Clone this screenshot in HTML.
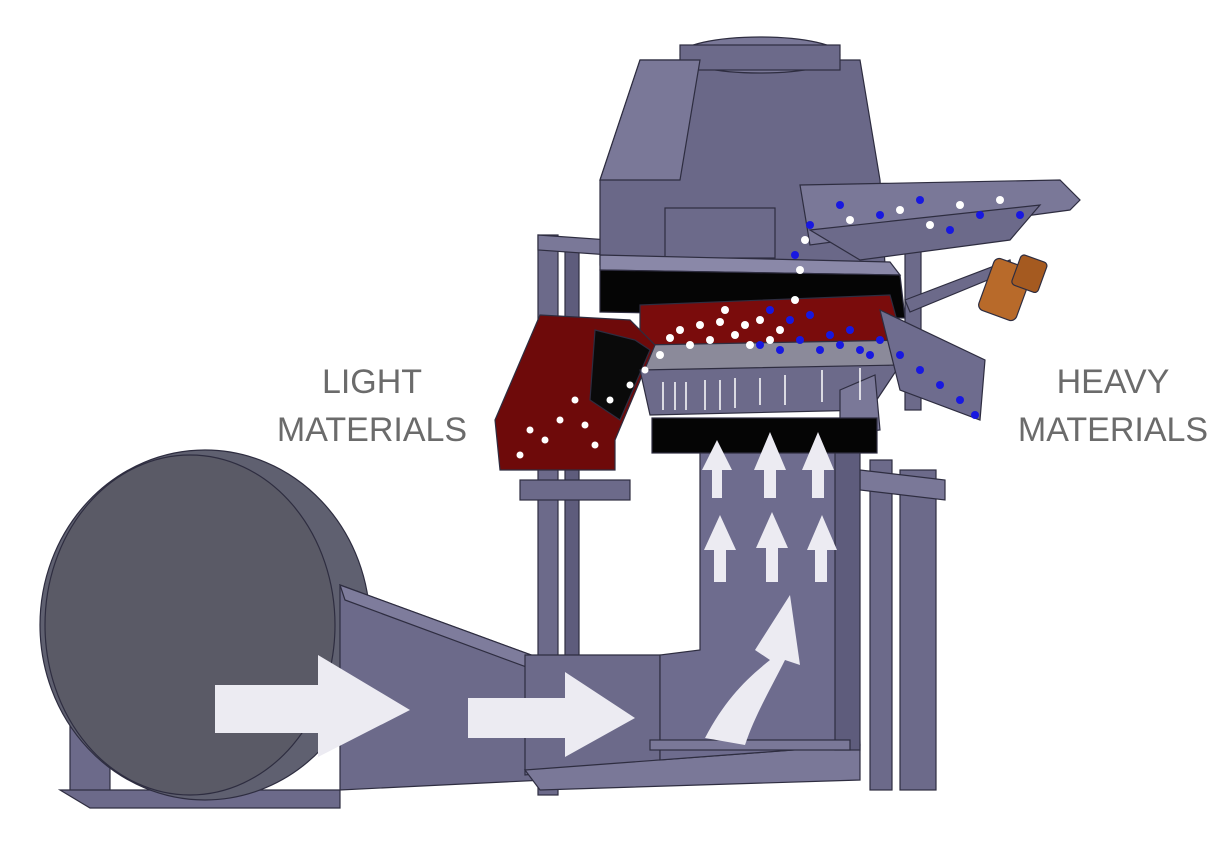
<!DOCTYPE html>
<html><head><style>
html,body{margin:0;padding:0;background:#fff;width:1211px;height:864px;overflow:hidden}
svg{display:block}
text{font-family:"Liberation Sans",sans-serif;fill:#6b6b6b;font-size:34px}
</style></head><body>
<svg width="1211" height="864" viewBox="0 0 1211 864" xmlns="http://www.w3.org/2000/svg">
<g stroke="#2e2d40" stroke-width="1.2">
<rect x="538" y="235" width="20" height="560" fill="#6c6a8a"/>
<rect x="565" y="240" width="14" height="540" fill="#5e5c7c"/>
<polygon points="538,235 610,240 610,255 538,250" fill="#7a7898"/>
<rect x="520" y="480" width="110" height="20" fill="#6c6a8a"/>
<rect x="870" y="460" width="22" height="330" fill="#6c6a8a"/>
<rect x="900" y="470" width="36" height="320" fill="#6c6a8a"/>
<polygon points="860,470 945,480 945,500 860,490" fill="#7a7898"/>
<rect x="905" y="230" width="16" height="180" fill="#6c6a8a"/>
<polygon points="905,300 1010,260 1012,270 910,312" fill="#6c6a8a"/>
<polygon points="70,700 110,700 110,795 70,795" fill="#6c6a8a"/>
<polygon points="60,790 340,790 340,808 90,808" fill="#6c6a8a"/>
<ellipse cx="205" cy="625" rx="165" ry="175" fill="#5f6070"/>
<ellipse cx="190" cy="625" rx="145" ry="170" fill="#5a5a66"/>
<polygon points="340,585 545,660 545,780 340,790" fill="#6c6a8a"/>
<polygon points="340,585 545,660 548,675 345,600" fill="#7e7c9c"/>
<polygon points="525,655 660,655 660,760 525,775" fill="#6c6a8a"/>
<polygon points="525,770 860,745 860,780 540,790" fill="#7a7898"/>
<polygon points="655,440 855,440 860,745 660,760 660,655 700,650 700,440" fill="#6e6c8e"/>
<rect x="835" y="440" width="25" height="310" fill="#5e5c7c"/>
<rect x="650" y="740" width="200" height="10" fill="#7a7898"/>
<polygon points="640,60 860,60 880,180 885,265 600,265 600,180" fill="#6a6888"/>
<ellipse cx="760" cy="55" rx="80" ry="18" fill="#7a7898"/>
<rect x="680" y="45" width="160" height="25" fill="#6c6a8a"/>
<polygon points="640,60 700,60 680,180 600,180" fill="#7a7898"/>
<rect x="665" y="208" width="110" height="50" fill="#6c6a8a"/>
<polygon points="600,255 890,262 900,275 600,270" fill="#8a88a8"/>
<polygon points="600,270 900,275 905,318 600,312" fill="#050505"/>
<polygon points="640,305 890,295 905,350 640,350" fill="#7a0c0c"/>
<polygon points="640,345 910,340 905,370 640,375" fill="#8b8a9a"/>
<polygon points="540,315 630,320 655,345 615,440 615,470 500,470 495,420" fill="#6e0a0a"/>
<polygon points="595,330 635,340 650,350 620,420 590,400" fill="#0a0a0a"/>
<polygon points="640,370 900,365 870,410 650,415" fill="#6c6a8a"/>
<polygon points="840,390 875,375 880,430 840,435" fill="#7a7898"/>
<rect x="652" y="418" width="225" height="35" fill="#050505"/>
<polygon points="800,185 1060,180 1080,200 1070,210 810,245" fill="#7a7898"/>
<polygon points="810,230 1040,205 1010,240 860,260" fill="#6c6a8a"/>
<polygon points="880,310 985,360 980,420 900,390" fill="#6e6c8e"/>
<rect x="985" y="262" width="40" height="55" rx="6" fill="#b86a2a" transform="rotate(20 1005 290)"/>
<rect x="1015" y="258" width="28" height="32" rx="4" fill="#a55a20" transform="rotate(20 1030 275)"/>
</g>
<g fill="#fff">
<circle cx="680" cy="330" r="4"/><circle cx="700" cy="325" r="4"/><circle cx="720" cy="322" r="4"/><circle cx="690" cy="345" r="4"/><circle cx="710" cy="340" r="4"/><circle cx="735" cy="335" r="4"/><circle cx="660" cy="355" r="4"/><circle cx="745" cy="325" r="4"/><circle cx="760" cy="320" r="4"/><circle cx="780" cy="330" r="4"/><circle cx="795" cy="300" r="4"/><circle cx="800" cy="270" r="4"/><circle cx="805" cy="240" r="4"/><circle cx="850" cy="220" r="4"/><circle cx="900" cy="210" r="4"/><circle cx="960" cy="205" r="4"/><circle cx="1000" cy="200" r="4"/><circle cx="930" cy="225" r="4"/>
<circle cx="670" cy="338" r="4"/><circle cx="725" cy="310" r="4"/><circle cx="750" cy="345" r="4"/><circle cx="770" cy="340" r="4"/>
<circle cx="520" cy="455" r="3.5"/><circle cx="545" cy="440" r="3.5"/><circle cx="560" cy="420" r="3.5"/><circle cx="575" cy="400" r="3.5"/><circle cx="595" cy="445" r="3.5"/><circle cx="530" cy="430" r="3.5"/><circle cx="585" cy="425" r="3.5"/><circle cx="610" cy="400" r="3.5"/><circle cx="630" cy="385" r="3.5"/><circle cx="645" cy="370" r="3.5"/>
</g>
<g fill="#1818e0">
<circle cx="760" cy="345" r="4"/><circle cx="780" cy="350" r="4"/><circle cx="800" cy="340" r="4"/><circle cx="820" cy="350" r="4"/><circle cx="840" cy="345" r="4"/><circle cx="860" cy="350" r="4"/><circle cx="880" cy="340" r="4"/><circle cx="790" cy="320" r="4"/><circle cx="770" cy="310" r="4"/><circle cx="810" cy="315" r="4"/><circle cx="920" cy="370" r="4"/><circle cx="940" cy="385" r="4"/><circle cx="960" cy="400" r="4"/><circle cx="975" cy="415" r="4"/><circle cx="795" cy="255" r="4"/><circle cx="810" cy="225" r="4"/><circle cx="840" cy="205" r="4"/><circle cx="880" cy="215" r="4"/><circle cx="920" cy="200" r="4"/><circle cx="980" cy="215" r="4"/><circle cx="1020" cy="215" r="4"/><circle cx="950" cy="230" r="4"/>
<circle cx="830" cy="335" r="4"/><circle cx="850" cy="330" r="4"/><circle cx="870" cy="355" r="4"/><circle cx="900" cy="355" r="4"/>
</g>
<g stroke="#fff" stroke-width="1.5" fill="#fff">
<line x1="663" y1="410" x2="663" y2="382"/><line x1="675" y1="410" x2="675" y2="382"/><line x1="686" y1="410" x2="686" y2="382"/><line x1="705" y1="410" x2="705" y2="380"/><line x1="720" y1="410" x2="720" y2="380"/><line x1="735" y1="408" x2="735" y2="378"/><line x1="760" y1="405" x2="760" y2="378"/><line x1="785" y1="405" x2="785" y2="375"/><line x1="822" y1="402" x2="822" y2="370"/><line x1="860" y1="400" x2="860" y2="368"/>
</g>
<g fill="#ecebf2">
<polygon points="215,685 318,685 318,655 410,710 318,757 318,733 215,733"/>
<polygon points="468,698 565,698 565,672 635,718 565,757 565,738 468,738"/>
<polygon points="712,470 712,498 722,498 722,470 732,470 717,440 702,470"/>
<polygon points="764,470 764,498 776,498 776,470 786,470 770,432 754,470"/>
<polygon points="812,470 812,498 824,498 824,470 834,470 818,432 802,470"/>
<polygon points="714,550 714,582 726,582 726,550 736,550 720,515 704,550"/>
<polygon points="766,548 766,582 778,582 778,548 788,548 772,512 756,548"/>
<polygon points="815,550 815,582 827,582 827,550 837,550 822,515 807,550"/>
<path d="M705,738 C725,700 745,680 770,660 L755,650 L790,595 L800,665 L785,660 C770,690 755,715 745,745 Z"/>
</g>
<text x="372" y="393" text-anchor="middle">LIGHT</text>
<text x="372" y="441" text-anchor="middle">MATERIALS</text>
<text x="1113" y="393" text-anchor="middle">HEAVY</text>
<text x="1113" y="441" text-anchor="middle">MATERIALS</text>
</svg>
</body></html>
